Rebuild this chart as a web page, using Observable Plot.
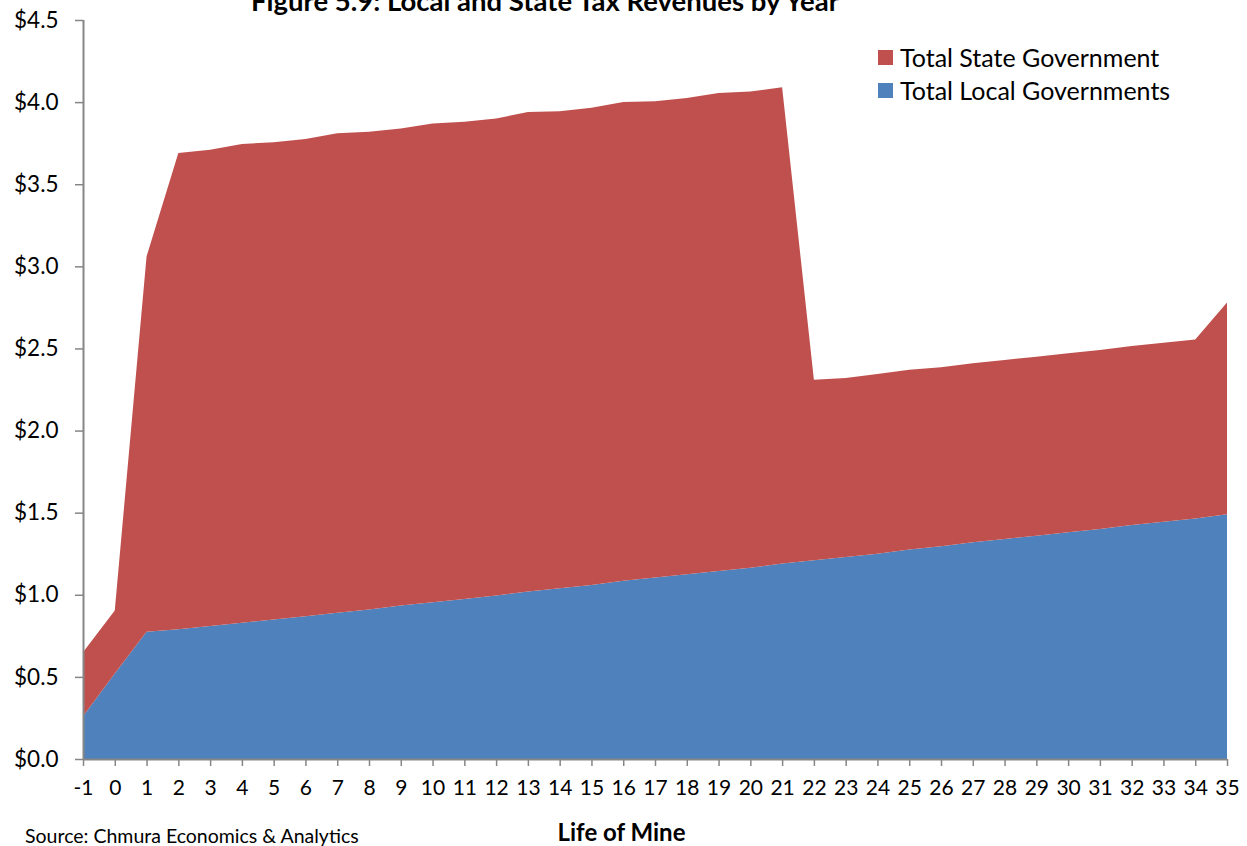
<!DOCTYPE html>
<html>
<head>
<meta charset="utf-8">
<script src="https://cdn.jsdelivr.net/npm/d3@7"></script>
<script src="https://cdn.jsdelivr.net/npm/@observablehq/plot@0.6"></script>
<style>
  html, body { margin: 0; padding: 0; background: #fff; overflow: hidden; }
  #wrap { position: relative; width: 1247px; height: 846px; font-family: Lato, "Open Sans", sans-serif; }
  #wrap svg { position: absolute; left: 0; top: 0; }
  .ov { position: absolute; white-space: nowrap; color: #000; line-height: 1; }
  #title { left: 0; width: 1090px; text-align: center; top: -13px; font-weight: bold; font-size: 27.5px; }
  #source { left: 25px; top: 826px; font-size: 19.5px; }
  #xlabel { left: 555px; width: 133px; text-align: center; top: 820px; font-size: 24px; font-weight: bold; }
  .leg { position: absolute; left: 878px; font-size: 25px; display: flex; align-items: center; line-height: 1; }
  .sw { width: 15px; height: 15px; margin-right: 7px; }
</style>
</head>
<body>
<div id="wrap">
  <div class="ov" id="title">Figure 5.9: Local and State Tax Revenues by Year</div>
  <div class="leg" style="top:45px"><div class="sw" style="background:#C0504D"></div><span>Total State Government</span></div>
  <div class="leg" style="top:78px"><div class="sw" style="background:#4F81BD"></div><span>Total Local Governments</span></div>
  <div class="ov" id="source">Source: Chmura Economics &amp; Analytics</div>
  <div class="ov" id="xlabel">Life of Mine</div>
</div>
<script>
const years = [-1,0,1,2,3,4,5,6,7,8,9,10,11,12,13,14,15,16,17,18,19,20,21,22,23,24,25,26,27,28,29,30,31,32,33,34,35];
const localGov = [0.26,0.52,0.775,0.79,0.81,0.83,0.85,0.87,0.89,0.91,0.935,0.955,0.975,0.995,1.02,1.04,1.06,1.085,1.105,1.125,1.145,1.165,1.19,1.21,1.23,1.25,1.275,1.295,1.32,1.34,1.36,1.38,1.40,1.425,1.445,1.465,1.49];
const stateGov = [0.39,0.385,2.285,2.90,2.90,2.915,2.905,2.905,2.92,2.91,2.905,2.915,2.905,2.905,2.92,2.905,2.905,2.915,2.90,2.90,2.91,2.90,2.90,1.10,1.09,1.095,1.095,1.09,1.09,1.09,1.09,1.09,1.09,1.09,1.09,1.09,1.29];
const seriesNames = ["Total Local Governments", "Total State Government"];
const seriesColors = ["#4F81BD", "#C0504D"];
const yTicks = [0,0.5,1,1.5,2,2.5,3,3.5,4,4.5];

const data = [];
years.forEach((yr, i) => data.push({year: yr, series: seriesNames[0], value: localGov[i]}));
years.forEach((yr, i) => data.push({year: yr, series: seriesNames[1], value: stateGov[i]}));

const axisGray = "#868686";
const chart = Plot.plot({
  width: 1247,
  height: 846,
  marginLeft: 83,
  marginRight: 20,
  marginTop: 20,
  marginBottom: 87,
  style: { fontFamily: "Lato, 'Open Sans', sans-serif", background: "transparent", color: "#000" },
  x: { type: "linear", domain: [-1, 35] },
  y: { domain: [0, 4.5] },
  color: { domain: seriesNames, range: seriesColors },
  marks: [
    Plot.areaY(data, { x: "year", y: "value", fill: "series", z: "series", order: seriesNames, curve: "linear" }),
    Plot.axisX({ ticks: years, tickFormat: d => String(d), tickSize: 7, tickPadding: 14, fontSize: 21, stroke: axisGray, strokeWidth: 1.5, fill: "#000", label: null }),
    Plot.axisY({ ticks: yTicks, tickFormat: d => "$" + d.toFixed(1), tickSize: 8, tickPadding: 17, fontSize: 22.5, stroke: axisGray, strokeWidth: 1.5, fill: "#000", label: null }),
    Plot.ruleY([0], { stroke: axisGray, strokeWidth: 2 }),
    Plot.ruleX([-1], { stroke: axisGray, strokeWidth: 2 })
  ]
});
document.getElementById("wrap").prepend(chart);
</script>
</body>
</html>
